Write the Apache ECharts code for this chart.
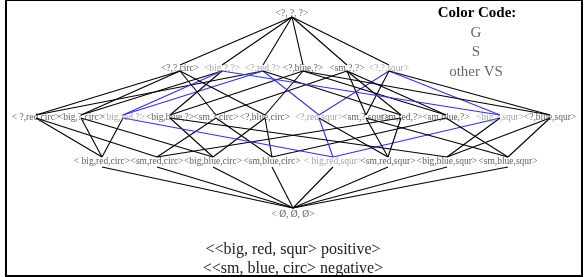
<!DOCTYPE html>
<html>
<head>
	<title>Version space</title>
	<meta charset="utf-8">
	<script src="https://cdn.jsdelivr.net/npm/echarts@6/dist/echarts.min.js"></script>
	<style>
		html, body { margin: 0; padding: 0; background: #fff; }
	</style>
</head>
<body>
	<div id="vs-lattice" style="width: 586px;height: 277px;"></div>
</body>

<script>
	// hypotheses by level, most general at the top
	var topLabel = ['<?, ?, ?>'];
	var level1Labels = ['<?,?,circ>', '<big,?,?>', '<?,red,?>', '<?,blue,?>', '<sm,?,?>', '<?,?,squr>'];
	var level2Labels = ['< ?,red,circ>', '<big,?,circ>', '<big,red,?>', '<big,blue,?>', '<sm,?,circ>', '<?,blue,circ>',
		'<?,red,squr>', '<sm,?,squr>', '<sm,red,?>', '<sm,blue,?>', '<big,?,squr>', '<?,blue,squr>'];
	var level3Labels = ['< big,red,circ>', '<sm,red,circ>', '<big,blue,circ>', '<sm,blue,circ>',
		'< big,red,squr>', '<sm,red,squr>', '<big,blue,squr>', '<sm,blue,squr>'];
	var bottomLabel = ['< Ø, Ø, Ø>'];

	// node positions (diagram units)
	var topX = [292];
	var level1X = [180, 222, 263, 303, 347, 389];
	var level2X = [36, 81, 123, 170, 216, 265, 319, 366, 401, 446, 500, 550];
	var level3X = [102, 157, 213, 272, 333, 388, 447, 508];
	var bottomX = [293];
	var levelY = [13, 68, 117, 161, 214];

	// parents of each node, as index into the level above
	var level1Parents = [[0], [0], [0], [0], [0], [0]];
	var level2Parents = [[0, 2], [1, 0], [1, 2], [1, 3], [4, 0], [3, 0], [2, 5], [4, 5], [4, 2], [4, 3], [1, 5], [3, 5]];
	var level3Parents = [[0, 1, 2], [0, 4, 8], [5, 1, 3], [5, 4, 9], [6, 10, 2], [6, 7, 8], [11, 10, 3], [11, 7, 9]];
	var bottomParents = [[0, 1, 2, 3, 4, 5, 6, 7]];

	// members of the version space (G, S and the ones in between)
	var level1InVS = [false, true, true, false, false, true];
	var level2InVS = [false, false, true, false, false, false, true, false, false, false, true, false];
	var level3InVS = [false, false, false, false, true, false, false, false];

	var examples = ['<<big, red, squr> positive>', '<<sm, blue, circ> negative>'];
	var colorCode = ['G', 'S', 'other VS'];

	// where edges leave/enter a label, relative to its centre
	var upGap = [0, -3, -2, -4, -6];
	var downGap = [4, 3, 1, 6, 0];

	var labels = [topLabel, level1Labels, level2Labels, level3Labels, bottomLabel];
	var xs = [topX, level1X, level2X, level3X, bottomX];
	var parents = [null, level1Parents, level2Parents, level3Parents, bottomParents];
	var inVS = [[false], level1InVS, level2InVS, level3InVS, [false]];

	var nodeData = [];
	var edgeData = [];
	for (var lv = 0; lv < labels.length; lv++) {
		for (var i = 0; i < labels[lv].length; i++) {
			nodeData.push({
				name: labels[lv][i],
				value: [xs[lv][i], levelY[lv]],
				label: { color: inVS[lv][i] ? '#8c8c8c' : '#333333' }
			});
			if (!parents[lv]) continue;
			var ps = parents[lv][i];
			for (var k = 0; k < ps.length; k++) {
				var p = ps[k];
				var blue = inVS[lv][i] && inVS[lv - 1][p];
				edgeData.push({
					coords: [[xs[lv][i], levelY[lv] + upGap[lv]], [xs[lv - 1][p], levelY[lv - 1] + downGap[lv - 1]]],
					lineStyle: { color: blue ? '#3030ff' : '#000000' }
				});
			}
		}
	}

	var textFont = '"Liberation Serif", "Times New Roman", serif';
	var option = {
		animation: false,
		grid: { left: 0, right: 0, top: 0, bottom: 0 },
		xAxis: { type: 'value', min: 0, max: 586, show: false },
		yAxis: { type: 'value', min: 0, max: 277, inverse: true, show: false },
		graphic: [
			{ type: 'rect', shape: { x: 6, y: 0, width: 576, height: 276 }, style: { fill: 'none', stroke: '#000', lineWidth: 2 }, z: 10 },
			{ type: 'text', x: 477, y: 13, style: { text: 'Color Code:', font: 'bold 15px ' + textFont, fill: '#000', align: 'center', verticalAlign: 'middle' } },
			{ type: 'text', x: 476, y: 33, style: { text: colorCode[0], font: '15px ' + textFont, fill: '#666', align: 'center', verticalAlign: 'middle' } },
			{ type: 'text', x: 476, y: 52, style: { text: colorCode[1], font: '15px ' + textFont, fill: '#666', align: 'center', verticalAlign: 'middle' } },
			{ type: 'text', x: 476, y: 72, style: { text: colorCode[2], font: '15px ' + textFont, fill: '#666', align: 'center', verticalAlign: 'middle' } },
			{ type: 'text', x: 293, y: 250, style: { text: examples[0], font: '16px ' + textFont, fill: '#222', align: 'center', verticalAlign: 'middle' } },
			{ type: 'text', x: 293, y: 269, style: { text: examples[1], font: '16px ' + textFont, fill: '#222', align: 'center', verticalAlign: 'middle' } }
		],
		series: [{
			type: 'lines',
			coordinateSystem: 'cartesian2d',
			silent: true,
			lineStyle: { width: 1.1, opacity: 1 },
			data: edgeData,
			z: 2
		}, {
			type: 'scatter',
			symbolSize: 1,
			itemStyle: { color: 'rgba(0,0,0,0)' },
			label: {
				show: true,
				position: 'inside',
				formatter: '{b}',
				fontFamily: textFont,
				fontSize: 9.5
			},
			data: nodeData,
			z: 3
		}]
	};
	var chart = echarts.init(document.getElementById('vs-lattice'));
	chart.setOption(option);
</script>
</html>
